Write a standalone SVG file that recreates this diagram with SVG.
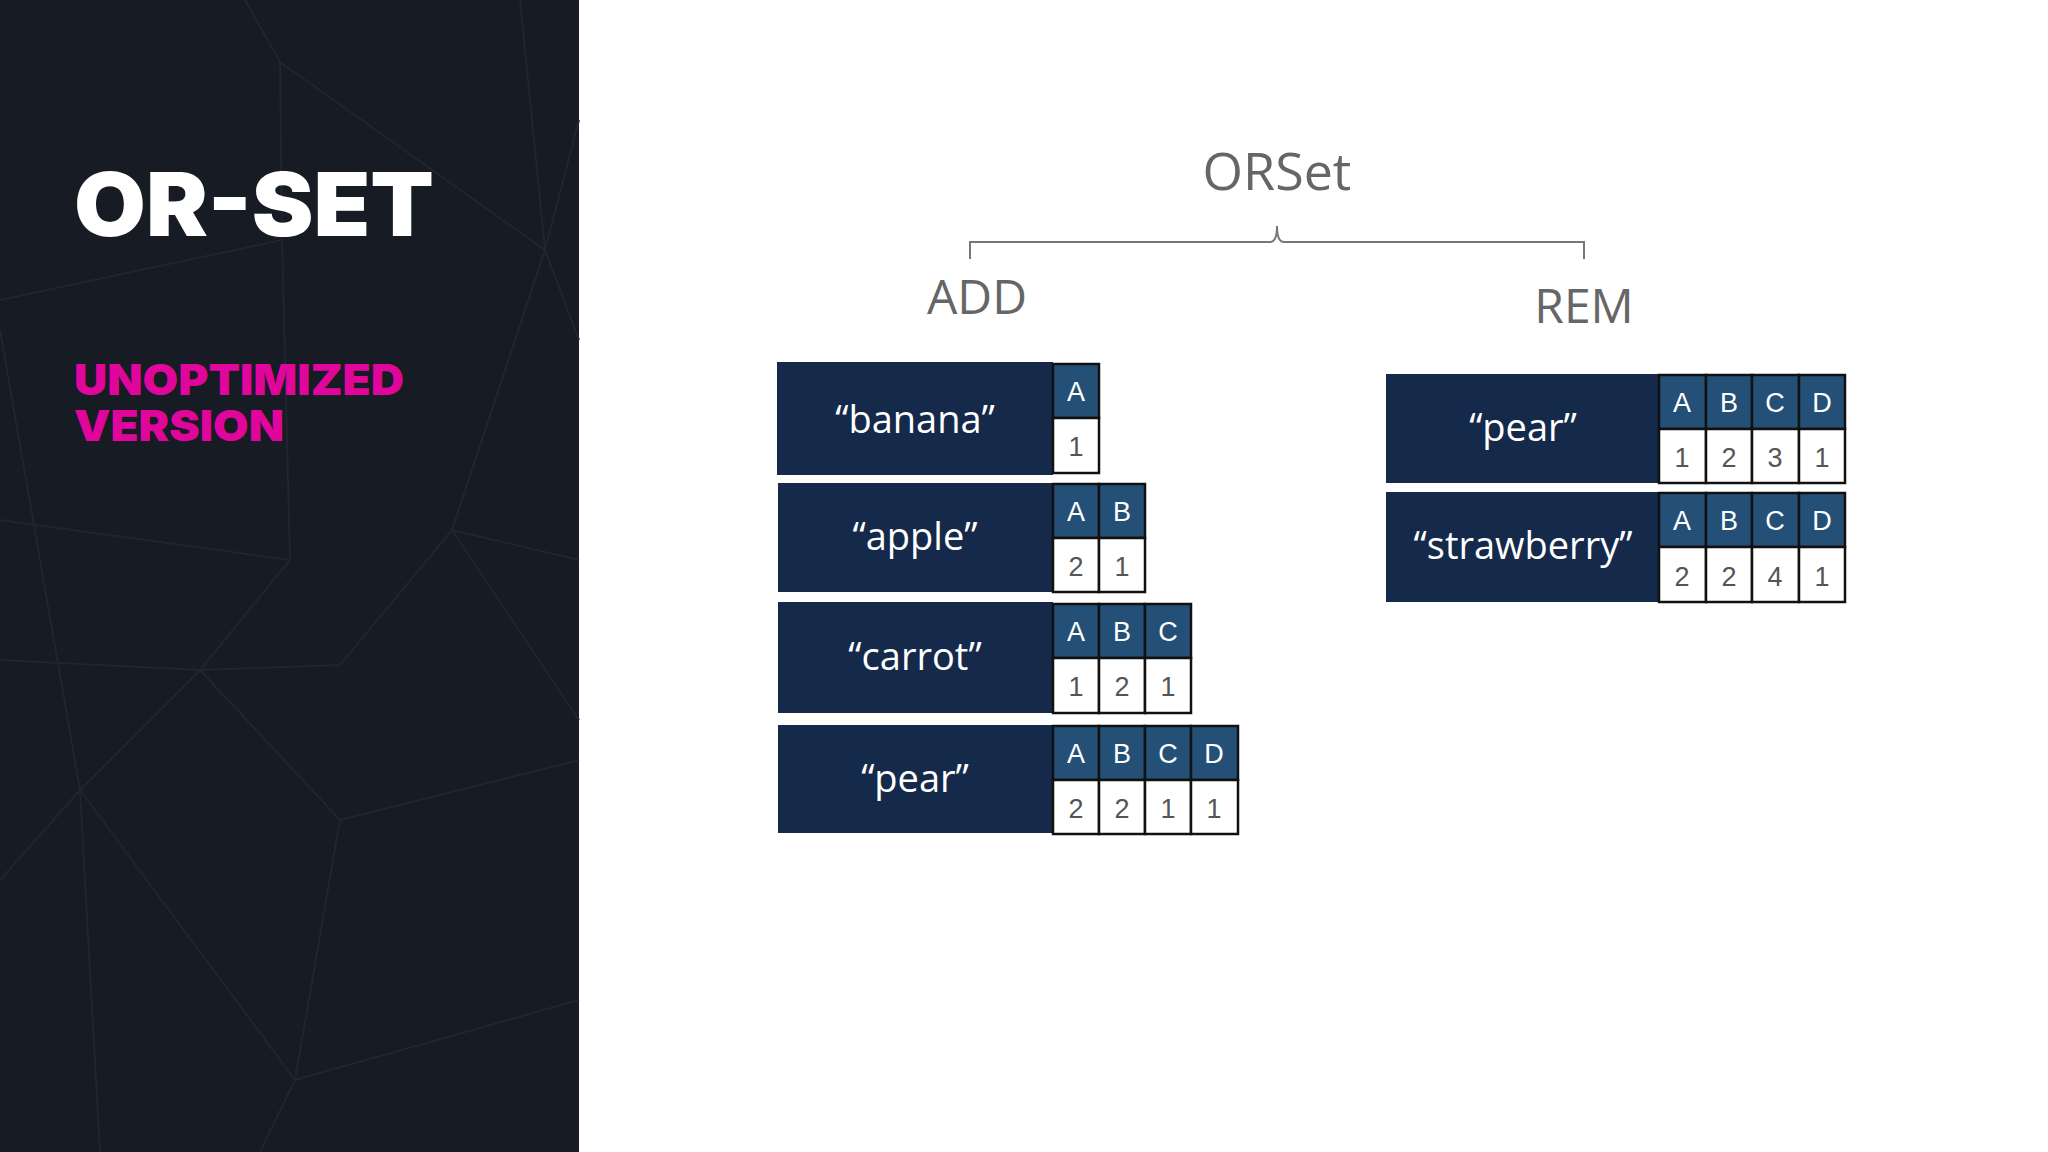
<svg xmlns="http://www.w3.org/2000/svg" width="2048" height="1152" viewBox="0 0 2048 1152">
<style>
.net{stroke:#1f2631;stroke-width:2;fill:none}
.box{fill:#15294a}
.hd{fill:#245078;stroke:#111;stroke-width:2.5}
.vl{fill:#fff;stroke:#111;stroke-width:2.5}
.lbl{font-family:"Open Sans","Liberation Sans",sans-serif;font-size:38px;fill:#fff;text-anchor:middle}
.ht{font-family:"Liberation Sans",sans-serif;font-size:27px;fill:#fff;text-anchor:middle}
.vt{font-family:"Liberation Sans",sans-serif;font-size:27px;fill:#555;text-anchor:middle}
.ttl{font-family:"Open Sans","Liberation Sans",sans-serif;fill:#666;text-anchor:middle}
</style>
<rect width="2048" height="1152" fill="#fff"/>
<g id="panel">
<rect width="579" height="1152" fill="#161b24"/>
<path class="net" d="M245 0 L280 62 L282 240 L290 560 L200 670 L80 790 L0 880 M280 62 L545 250 L452 530 L340 665 L200 670 M545 250 L579 120 M545 250 L579 340 M452 530 L579 720 M0 300 L282 240 M0 520 L290 560 M0 660 L200 670 L340 820 L579 760 M80 790 L100 1152 M80 790 L295 1080 L340 820 M295 1080 L579 1000 M295 1080 L260 1152 M520 0 L545 250 M0 330 L80 790 M452 530 L579 560"/>
</g>
<g id="title">
<text x="74" y="236" font-family="Inter,'Liberation Sans',sans-serif" font-weight="900" font-size="88" fill="#fff" textLength="360" lengthAdjust="spacingAndGlyphs">OR-SET</text>
<text x="74" y="395" font-family="Inter,'Liberation Sans',sans-serif" font-weight="900" font-size="43" fill="#e0069b" textLength="330" lengthAdjust="spacingAndGlyphs">UNOPTIMIZED</text>
<text x="74" y="441" font-family="Inter,'Liberation Sans',sans-serif" font-weight="900" font-size="43" fill="#e0069b" textLength="210" lengthAdjust="spacingAndGlyphs">VERSION</text>
</g>
<g id="headings">
<text class="ttl" x="1277" y="190" font-size="52">ORSet</text>
<text class="ttl" x="977" y="314" font-size="48">ADD</text>
<text class="ttl" x="1584" y="323" font-size="48">REM</text>
</g>
<g id="connectors">
<path d="M970 259 V242 H1270 Q1277 242 1277 226 Q1277 242 1284 242 H1584 V259" fill="none" stroke="#777" stroke-width="2"/>
</g>
<g id="banana">
<rect class="box" x="777" y="362" width="276" height="113"/>
<text class="lbl" x="915" y="433">“banana”</text>
<rect class="hd" x="1053" y="364" width="46" height="54"/><text class="ht" x="1076" y="401">A</text>
<rect class="vl" x="1053" y="418" width="46" height="55"/><text class="vt" x="1076" y="456">1</text>
</g>
<g id="apple">
<rect class="box" x="778" y="483" width="275" height="109"/>
<text class="lbl" x="915" y="550">“apple”</text>
<rect class="hd" x="1053" y="484" width="46" height="54"/><text class="ht" x="1076" y="521">A</text>
<rect class="hd" x="1099" y="484" width="46" height="54"/><text class="ht" x="1122" y="521">B</text>
<rect class="vl" x="1053" y="538" width="46" height="54"/><text class="vt" x="1076" y="576">2</text>
<rect class="vl" x="1099" y="538" width="46" height="54"/><text class="vt" x="1122" y="576">1</text>
</g>
<g id="carrot">
<rect class="box" x="778" y="602" width="275" height="111"/>
<text class="lbl" x="915" y="670">“carrot”</text>
<rect class="hd" x="1053" y="604" width="46" height="54"/><text class="ht" x="1076" y="641">A</text>
<rect class="hd" x="1099" y="604" width="46" height="54"/><text class="ht" x="1122" y="641">B</text>
<rect class="hd" x="1145" y="604" width="46" height="54"/><text class="ht" x="1168" y="641">C</text>
<rect class="vl" x="1053" y="658" width="46" height="55"/><text class="vt" x="1076" y="696">1</text>
<rect class="vl" x="1099" y="658" width="46" height="55"/><text class="vt" x="1122" y="696">2</text>
<rect class="vl" x="1145" y="658" width="46" height="55"/><text class="vt" x="1168" y="696">1</text>
</g>
<g id="pear-add">
<rect class="box" x="778" y="725" width="275" height="108"/>
<text class="lbl" x="915" y="792">“pear”</text>
<rect class="hd" x="1053" y="726" width="46" height="54"/><text class="ht" x="1076" y="763">A</text>
<rect class="hd" x="1099" y="726" width="46" height="54"/><text class="ht" x="1122" y="763">B</text>
<rect class="hd" x="1145" y="726" width="46" height="54"/><text class="ht" x="1168" y="763">C</text>
<rect class="hd" x="1191" y="726" width="47" height="54"/><text class="ht" x="1214" y="763">D</text>
<rect class="vl" x="1053" y="780" width="46" height="54"/><text class="vt" x="1076" y="818">2</text>
<rect class="vl" x="1099" y="780" width="46" height="54"/><text class="vt" x="1122" y="818">2</text>
<rect class="vl" x="1145" y="780" width="46" height="54"/><text class="vt" x="1168" y="818">1</text>
<rect class="vl" x="1191" y="780" width="47" height="54"/><text class="vt" x="1214" y="818">1</text>
</g>
<g id="pear-rem">
<rect class="box" x="1386" y="374" width="273" height="109"/>
<text class="lbl" x="1523" y="441">“pear”</text>
<rect class="hd" x="1659" y="375" width="47" height="54"/><text class="ht" x="1682" y="412">A</text>
<rect class="hd" x="1706" y="375" width="46" height="54"/><text class="ht" x="1729" y="412">B</text>
<rect class="hd" x="1752" y="375" width="47" height="54"/><text class="ht" x="1775" y="412">C</text>
<rect class="hd" x="1799" y="375" width="46" height="54"/><text class="ht" x="1822" y="412">D</text>
<rect class="vl" x="1659" y="429" width="47" height="54"/><text class="vt" x="1682" y="467">1</text>
<rect class="vl" x="1706" y="429" width="46" height="54"/><text class="vt" x="1729" y="467">2</text>
<rect class="vl" x="1752" y="429" width="47" height="54"/><text class="vt" x="1775" y="467">3</text>
<rect class="vl" x="1799" y="429" width="46" height="54"/><text class="vt" x="1822" y="467">1</text>
</g>
<g id="strawberry">
<rect class="box" x="1386" y="492" width="273" height="110"/>
<text class="lbl" x="1523" y="559">“strawberry”</text>
<rect class="hd" x="1659" y="493" width="47" height="54"/><text class="ht" x="1682" y="530">A</text>
<rect class="hd" x="1706" y="493" width="46" height="54"/><text class="ht" x="1729" y="530">B</text>
<rect class="hd" x="1752" y="493" width="47" height="54"/><text class="ht" x="1775" y="530">C</text>
<rect class="hd" x="1799" y="493" width="46" height="54"/><text class="ht" x="1822" y="530">D</text>
<rect class="vl" x="1659" y="547" width="47" height="55"/><text class="vt" x="1682" y="586">2</text>
<rect class="vl" x="1706" y="547" width="46" height="55"/><text class="vt" x="1729" y="586">2</text>
<rect class="vl" x="1752" y="547" width="47" height="55"/><text class="vt" x="1775" y="586">4</text>
<rect class="vl" x="1799" y="547" width="46" height="55"/><text class="vt" x="1822" y="586">1</text>
</g>
</svg>
